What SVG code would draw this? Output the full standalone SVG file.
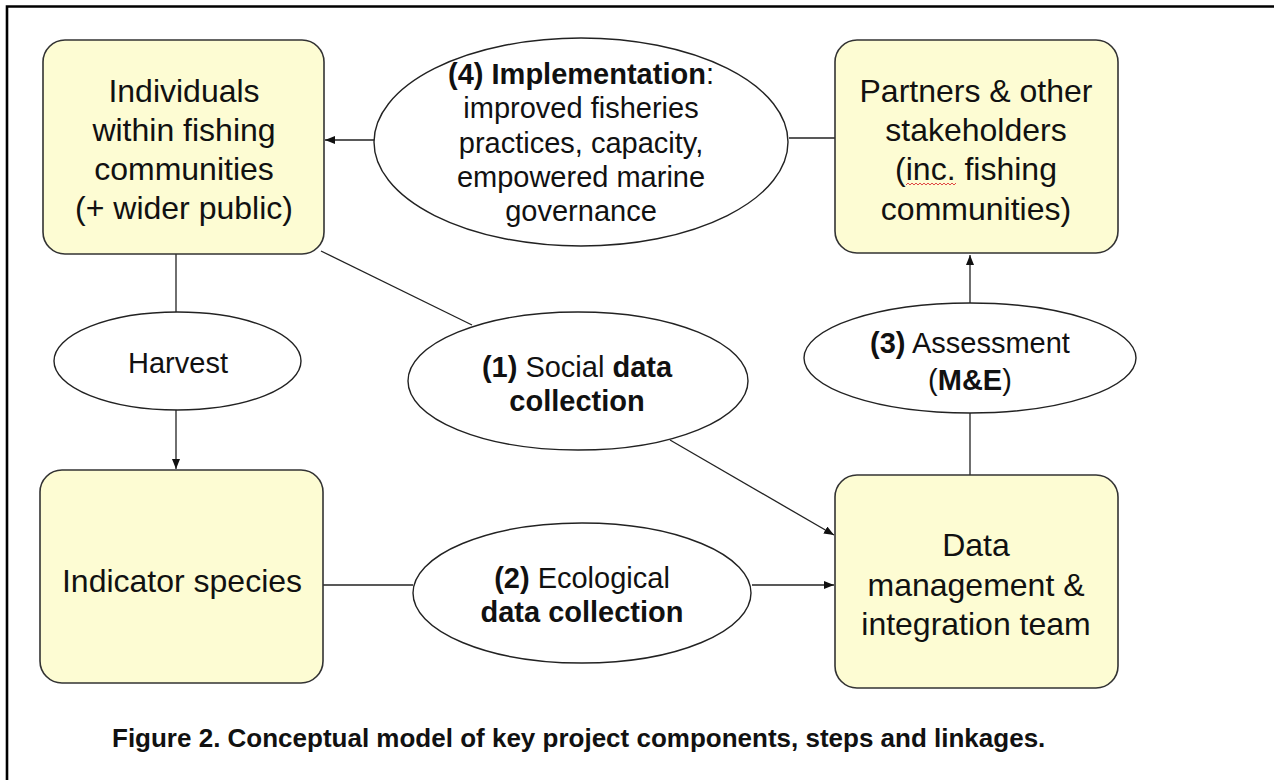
<svg xmlns="http://www.w3.org/2000/svg" width="1274" height="780" viewBox="0 0 1274 780">
<defs>
<style>
.box{fill:#FDFCD3;stroke:#333;stroke-width:1.6}
.ell{fill:#fff;stroke:#222;stroke-width:1.4}
.ln{stroke:#222;stroke-width:1.3;fill:none}
.bt{font-family:"Liberation Sans",Arial,sans-serif;font-size:32px;fill:#111;text-anchor:middle}
.et{font-family:"Liberation Sans",Arial,sans-serif;font-size:29px;fill:#111;text-anchor:middle}
.b{font-weight:bold}
.cap{font-family:"Liberation Sans",Arial,sans-serif;font-size:26px;font-weight:bold;fill:#111}
</style>
<marker id="ah" markerUnits="userSpaceOnUse" markerWidth="10" markerHeight="8" refX="10" refY="4" orient="auto">
<path d="M0,0 L10,4 L0,8 Z" fill="#111"/>
</marker>
</defs>
<rect width="1274" height="780" fill="#fff"/>
<path d="M7,780 V6.5 H1274" fill="none" stroke="#000" stroke-width="2.6"/>

<g id="connectors">
<line class="ln" x1="374" y1="140" x2="325" y2="140" marker-end="url(#ah)"/>
<line class="ln" x1="789" y1="138" x2="835" y2="138"/>
<line class="ln" x1="176" y1="254" x2="176" y2="312"/>
<line class="ln" x1="176" y1="410" x2="176" y2="469" marker-end="url(#ah)"/>
<line class="ln" x1="321" y1="251" x2="472" y2="325"/>
<line class="ln" x1="670" y1="440" x2="834" y2="535" marker-end="url(#ah)"/>
<line class="ln" x1="323" y1="585" x2="413" y2="585"/>
<line class="ln" x1="752" y1="585" x2="834" y2="585" marker-end="url(#ah)"/>
<line class="ln" x1="970" y1="303" x2="970" y2="255" marker-end="url(#ah)"/>
<line class="ln" x1="970" y1="413" x2="970" y2="475"/>
</g>

<g id="individuals">
<rect class="box" x="43" y="40" width="281" height="214" rx="22"/>
<text class="bt" x="184" y="102">Individuals</text>
<text class="bt" x="184" y="141">within fishing</text>
<text class="bt" x="184" y="180">communities</text>
<text class="bt" x="184" y="219">(+ wider public)</text>
</g>

<g id="implementation">
<ellipse class="ell" cx="581" cy="142" rx="207" ry="104"/>
<text class="et" x="581" y="84"><tspan class="b">(4) Implementation</tspan>:</text>
<text class="et" x="581" y="118">improved fisheries</text>
<text class="et" x="581" y="153">practices, capacity,</text>
<text class="et" x="581" y="187">empowered marine</text>
<text class="et" x="581" y="221">governance</text>
</g>

<g id="partners">
<rect class="box" x="835" y="40" width="283" height="213" rx="22"/>
<text class="bt" x="976" y="102">Partners &amp; other</text>
<text class="bt" x="976" y="141">stakeholders</text>
<text class="bt" x="976" y="180">(inc. fishing</text>
<text class="bt" x="976" y="220">communities)</text>
<path d="M906,185 l2,-2 2,2 2,-2 2,2 2,-2 2,2 2,-2 2,2 2,-2 2,2 2,-2 2,2 2,-2 2,2 2,-2 2,2 2,-2 2,2 2,-2 2,2 2,-2 2,2 2,-2 2,2 2,-2" fill="none" stroke="#d33" stroke-width="0.9"/>
</g>

<g id="harvest">
<ellipse class="ell" cx="177.5" cy="361" rx="123.5" ry="49"/>
<text class="et" x="178" y="373">Harvest</text>
</g>

<g id="social">
<ellipse class="ell" cx="578" cy="381" rx="170" ry="69"/>
<text class="et" x="577" y="377"><tspan class="b">(1)</tspan> Social <tspan class="b">data</tspan></text>
<text class="et b" x="577" y="411">collection</text>
</g>

<g id="assessment">
<ellipse class="ell" cx="970" cy="358" rx="166" ry="55"/>
<text class="et" x="970" y="353"><tspan class="b">(3)</tspan> Assessment</text>
<text class="et" x="970" y="390">(<tspan class="b">M&amp;E</tspan>)</text>
</g>

<g id="indicator">
<rect class="box" x="40" y="470" width="283" height="213" rx="22"/>
<text class="bt" x="182" y="592">Indicator species</text>
</g>

<g id="ecological">
<ellipse class="ell" cx="582" cy="593" rx="169" ry="70"/>
<text class="et" x="582" y="588"><tspan class="b">(2)</tspan> Ecological</text>
<text class="et b" x="582" y="622">data collection</text>
</g>

<g id="datamgmt">
<rect class="box" x="835" y="475" width="283" height="213" rx="22"/>
<text class="bt" x="976" y="556">Data</text>
<text class="bt" x="976" y="596">management &amp;</text>
<text class="bt" x="976" y="635">integration team</text>
</g>

<text class="cap" x="112" y="747">Figure 2. Conceptual model of key project components, steps and linkages.</text>
</svg>
